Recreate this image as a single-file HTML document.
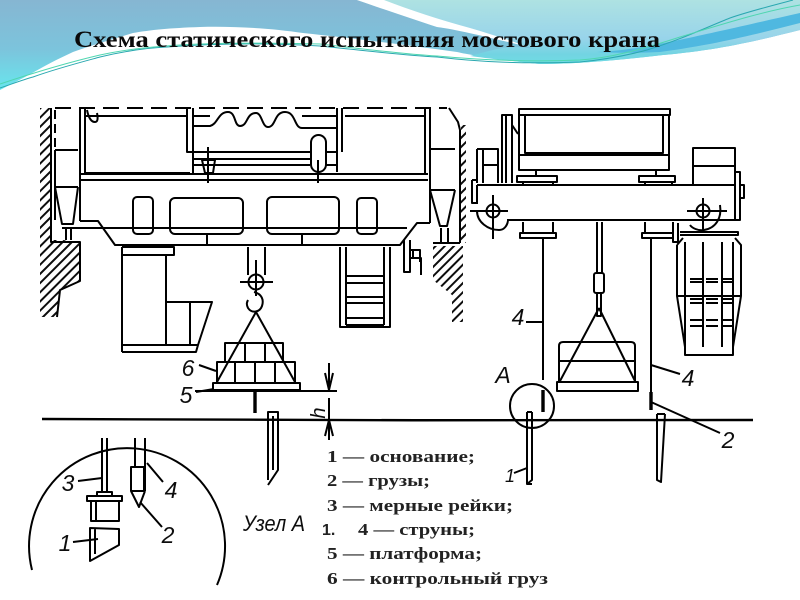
<!DOCTYPE html>
<html><head><meta charset="utf-8"><style>
html,body{margin:0;padding:0;background:#fff}
svg{display:block}
.d{fill:none;stroke:#000;stroke-width:2;stroke-linejoin:round}
.k{stroke-width:3.4}
.lab{font-family:"Liberation Sans",sans-serif;font-style:italic;font-size:23px;fill:#111;text-anchor:middle}
.li{font-family:"Liberation Serif",serif;font-weight:bold;font-size:17px;fill:#222}
</style></head><body>
<svg width="800" height="600" viewBox="0 0 800 600" xmlns="http://www.w3.org/2000/svg">
<defs>
<linearGradient id="b1" x1="0" y1="0" x2="0" y2="1"><stop offset="0" stop-color="#86b6d2"/><stop offset=".55" stop-color="#7cc4dc"/><stop offset="1" stop-color="#68e6ee"/></linearGradient>
<linearGradient id="b2" x1="0" y1="0" x2="0" y2="1"><stop offset="0" stop-color="#aee2e2"/><stop offset=".6" stop-color="#98d4ea"/><stop offset=".85" stop-color="#72d4e2"/><stop offset="1" stop-color="#70dce4"/></linearGradient>
<pattern id="h" width="6.5" height="6.5" patternUnits="userSpaceOnUse" patternTransform="rotate(45)"><rect width="6.5" height="6.5" fill="#fff"/><rect width="2" height="6.5" fill="#111"/></pattern>
<filter id="s" x="-5%" y="-5%" width="110%" height="110%"><feGaussianBlur stdDeviation="0.35"/></filter>
</defs>
<rect width="800" height="600" fill="#fff"/>
<!-- background waves -->
<path d="M0 0H800V30C760 40 720 50 663 55C620 60 580 64 540 64C500 60 470 55 457 52C400 44 350 38 303 33C270 28 230 26 200 27C170 28 150 30 133 33C110 40 90 46 73 52C60 58 50 63 43 67L25 77L0 90Z" fill="url(#b1)"/>
<path d="M357 0H800V30C760 40 720 50 663 55C620 60 580 64 540 64C520 62 500 60 470 56C500 48 510 44 540 50C500 40 470 30 437 27C410 18 380 8 357 0Z" fill="url(#b2)"/>
<path d="M357 0H384C410 10 440 20 470 28C490 34 510 40 525 46C490 38 460 30 437 27C410 18 380 8 357 0Z" fill="#fff"/>
<path d="M597 52C640 50 680 40 800 13V23C760 33 720 44 660 52C640 53 620 53 597 52Z" fill="#4fb8e0"/>
<path d="M0 88C12 84 22 80 33 77C55 69 78 63 100 57C125 51 145 48 167 47C220 43 270 43 320 46C360 50 400 55 437 57C480 62 520 64 580 62C600 60 625 56 647 50C680 40 705 28 730 18C750 11 775 5 793 0" fill="none" stroke="#2aa8b0" stroke-width="1"/>
<path d="M0 84C30 74 70 62 100 55C140 46 200 41 320 44C370 50 420 55 437 56C480 60 530 62 580 60C610 58 640 50 680 37C720 25 760 12 800 5" fill="none" stroke="#4fd6b0" stroke-width="1"/>

<g filter="url(#s)">
<!-- hatching -->
<path d="M40 108H51V240H63L80 242V281L60 290L57 317H40Z" fill="url(#h)"/>
<path d="M433 246H463V322H452V295L433 280Z" fill="url(#h)"/>
<path d="M461 125H466V243H461Z" fill="url(#h)"/>
<g class="d">
<!-- left view: roof dashes -->
<path d="M55 108H447" stroke-dasharray="16 8" />
<path d="M51 108V242H63M63 242H80V281L60 290L57 317"/>
<path d="M55 110V150" stroke-dasharray="9 5"/>
<path d="M55 150V220"/>
<path d="M80 108V221M85 108V173M85 116H187M187 108V152H310M193 108V173M85 173H190"/>
<path d="M87 110C89 120 92 122 95 122C98 122 98 118 97 113"/>
<path d="M80 174H428M80 180H428"/>
<path d="M80 221H98L115 245H400L410 232L417 223H430M63 228H407"/>
<rect x="133" y="197" width="20" height="37" rx="4"/>
<rect x="170" y="198" width="73" height="36" rx="5"/>
<rect x="267" y="197" width="72" height="37" rx="5"/>
<rect x="357" y="198" width="20" height="36" rx="4"/>
<path d="M207 234V245M302 234V245"/>
<!-- left hopper -->
<path d="M55 150H78M55 187H78M55 187L62 224H73L78 187"/>
<path d="M62 228H73M66 228V240M71 228V240" />
<!-- right hopper -->
<path d="M430 149H455M430 190H455M430 190L440 226H447L455 190M430 149V223M448 228V243M441 228V243M433 243H460"/>
<path d="M425 108V173M430 108V173M345 116H425M337 108V172M342 108V152"/>
<path d="M449 108L458 122L460 130V243"/>
<!-- drum -->
<path d="M193 116H210M193 126H210C218 124 218 112 228 112C236 112 234 126 240 126C248 126 246 113 256 113C262 113 262 127 268 127C276 127 274 112 285 112C296 112 294 128 302 128H337M302 116H337"/>
<path d="M193 159H310M193 165H310M326 152H337M326 165H337"/>
<rect x="311" y="135" width="15" height="37" rx="7.5"/>
<path d="M318 160V183"/>
<path d="M202 160H215L213 173H205ZM208 147V183"/>
<!-- under bridge left -->
<path d="M122 247V352M166 255V345M122 247H174V255H122M122 345H198L212 302H166M190 302V345M122 352H196L198 345"/>
<path d="M248 247V275M265 247V275"/>
<circle cx="256" cy="282" r="7.5"/>
<path d="M240 282H273M256 260V296"/>
<path d="M254 292C262 294 264 300 262 306C260 312 252 314 248 308C246 304 247 302 248 300"/>
<path d="M256 312L217 382M256 312L295 382"/>
<path d="M225 362V343H283V362M245 343V362M265 343V362M217 382V362H295V382M235 362V382M255 362V382M275 362V382"/>
<path d="M213 383H300V390H213Z"/>
<path d="M195 391H337"/>
<path class="k" d="M255 392V413"/>
<path d="M268 480V412H278V470L268 485M273 416V470"/>
<path d="M199 365L216 371M196 392L214 389"/>
<path d="M329 363V388M329 398V440M325 373L329 390L333 373M325 436L329 420L333 436M317 420H337"/>
<!-- ladder -->
<path d="M340 247V327H390V247M346 247V325M384 247V325M346 276H384M346 283H384M346 297H384M346 303H384M346 318H384M346 325H384"/>
<path d="M404 240V272H410V240M410 250H420V262M410 258H421V275M413 250V258"/>
<!-- ground -->
<path d="M42 419C300 421 500 420 753 420" stroke-width="2.4"/>
<!-- right view truck -->
<path d="M519 109H670V115H519ZM519 115V170H669V115M525 115V153H663V115M519 155H669"/>
<path d="M536 170V176M656 170V176M517 176H557V182H517ZM523 182V185H553V182M639 176H675V182H639ZM645 182V185H672V182"/>
<path d="M477 185H735V220H700M507 220H700M477 185V204"/>
<path d="M502 183V115H512V183M506 115V183M512 125L518 134"/>
<path d="M477 149V183M483 149V183M477 149H498V183M483 165H498M472 180V203H477M472 180H477"/>
<circle cx="493" cy="211" r="6.5"/>
<path d="M470 211H508M493 195V239M477 211C477 222 488 230 499 230C504 230 507 226 508 221"/>
<circle cx="703" cy="211" r="6.5"/>
<path d="M687 211H727M703 198V232M720 205C722 218 716 228 704 230C698 231 692 228 690 225"/>
<path d="M693 185V148H735V185M693 166H735M735 172H740V220H735M740 185H744V198H740"/>
<path d="M523 222V233M553 222V233M520 233H556V238H520ZM597 222V273M602 222V273"/>
<rect x="594" y="273" width="10" height="20" rx="2"/>
<path d="M597 293V316H601V293"/>
<path d="M543 238V380M651 238V410M645 222V233M673 222V233M642 233H673V238H642ZM673 223V242H678V223"/>
<path class="k" d="M543 390V412M651 392V410"/>
<path d="M599 308L560 381M599 308L635 381"/>
<path d="M559 381V346Q559 342 563 342H631Q635 342 635 346V381M559 361H635"/>
<path d="M557 382H638V391H557Z"/>
<circle cx="532" cy="406" r="22"/>
<path d="M527 412V484L532 480V412M657 414V480L661 482L665 414"/>
<path d="M657 414H665M527 412H532M527 484H532"/>
<path d="M526 322L543 322M651 365L680 374M651 402L720 433M514 473L527 468"/>
<!-- cage -->
<path d="M680 232H738V235H680M677 245V296L685 347V355H733V347L741 296V245L735 238M677 245L683 238"/>
<path d="M685 242V347M703 242V347M722 242V347M733 242V347M677 296H741"/>
<path d="M690 279H735M690 282H735M690 299H735M690 303H735M690 320H735M690 326H735" stroke-dasharray="12 4"/>
<!-- detail circle -->
<path d="M32 570A98 98 0 1 1 217 585"/>
<path d="M102 438V492M107 438V492M97 492H112V496H97ZM87 496H122V501H87ZM91 501V521H119V501M96 501V521"/>
<path d="M90 528L119 529V545L90 561ZM95 528V554"/>
<path d="M135 438V467M145 438V491M131 467H144V491H131ZM131 491L139 507L145 491"/>
<path d="M78 481L102 478M147 463L163 482M140 502L162 527M73 542L98 539"/>
</g>
<text class="lab" x="188" y="376">6</text>
<text class="lab" x="186" y="403">5</text>
<text class="lab" transform="translate(325 413) rotate(-90)" style="font-size:20px">h</text>
<text class="lab" x="503" y="383">A</text>
<text class="lab" x="518" y="325">4</text>
<text class="lab" x="688" y="386">4</text>
<text class="lab" x="728" y="448">2</text>
<text class="lab" x="510" y="482" style="font-size:18px">1</text>
<text class="lab" x="68" y="491">3</text>
<text class="lab" x="171" y="498">4</text>
<text class="lab" x="168" y="543">2</text>
<text class="lab" x="65" y="551">1</text>
<text x="243" y="531" font-family="Liberation Sans, sans-serif" font-style="italic" font-size="22" fill="#111" textLength="62" lengthAdjust="spacingAndGlyphs">Узел А</text>
</g>
<!-- title -->
<text x="74" y="47" font-family="Liberation Serif, serif" font-weight="bold" font-size="23" fill="#0a0a0a" textLength="586" lengthAdjust="spacingAndGlyphs">Схема статического испытания мостового крана</text>
<!-- list -->
<text class="li" x="327" y="462" textLength="148" lengthAdjust="spacingAndGlyphs">1 — основание;</text>
<text class="li" x="327" y="486" textLength="103" lengthAdjust="spacingAndGlyphs">2 — грузы;</text>
<text class="li" x="327" y="511" textLength="186" lengthAdjust="spacingAndGlyphs">3 — мерные рейки;</text>
<text x="322" y="535" font-family="Liberation Sans, sans-serif" font-weight="bold" font-size="16" fill="#222">1.</text>
<text class="li" x="358" y="535" textLength="117" lengthAdjust="spacingAndGlyphs">4 — струны;</text>
<text class="li" x="327" y="559" textLength="155" lengthAdjust="spacingAndGlyphs">5 — платформа;</text>
<text class="li" x="327" y="584" textLength="221" lengthAdjust="spacingAndGlyphs">6 — контрольный груз</text>
</svg>
</body></html>
